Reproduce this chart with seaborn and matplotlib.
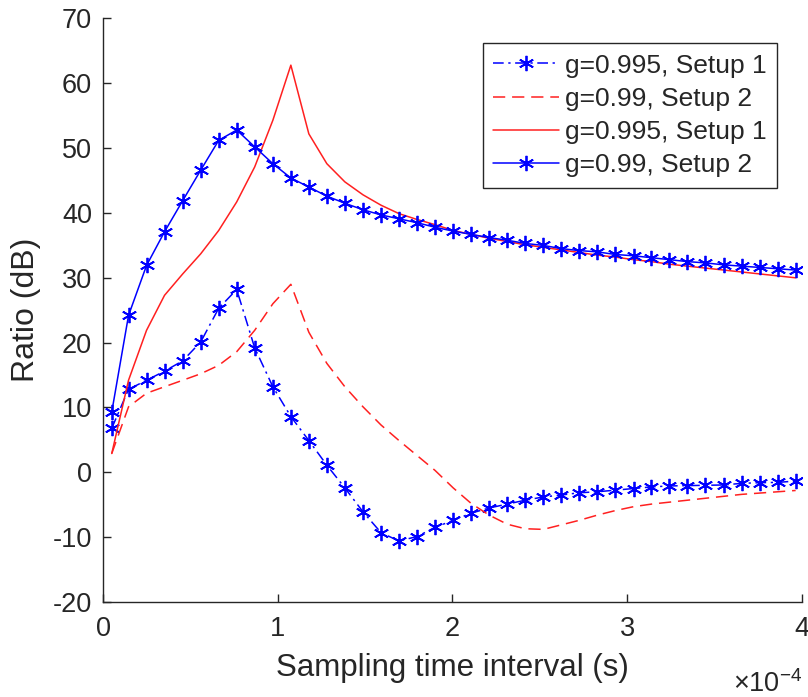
import matplotlib
matplotlib.use("Agg")
import matplotlib.pyplot as plt
import seaborn as sns

# sampling interval (units of 1e-4 s)
t = [0.05, 0.146, 0.249, 0.352, 0.456, 0.559, 0.662, 0.765, 0.868, 0.972,
     1.075, 1.178, 1.281, 1.384, 1.488, 1.591, 1.694, 1.797, 1.900, 2.004,
     2.107, 2.210, 2.313, 2.416, 2.520, 2.623, 2.726, 2.829, 2.932, 3.036,
     3.139, 3.242, 3.345, 3.448, 3.552, 3.655, 3.758, 3.861, 3.964]

# g=0.995, Setup 1 (blue, dash-dot, markers)
blue_dashdot = [6.8, 12.8, 14.2, 15.6, 17.2, 20.1, 25.3, 28.2, 19.2, 13.2,
                8.6, 4.9, 1.1, -2.4, -6.1, -9.3, -10.6, -9.9, -8.5, -7.4,
                -6.3, -5.5, -4.9, -4.3, -3.8, -3.5, -3.15, -3.0, -2.75, -2.5,
                -2.25, -2.1, -2.05, -2.0, -1.95, -1.7, -1.6, -1.55, -1.35]

# g=0.99, Setup 2 (red, dashed)
red_dashed = [2.9, 10.1, 12.2, 13.2, 14.2, 15.2, 16.5, 18.6, 21.9, 26.0,
              29.0, 21.6, 16.8, 13.2, 10.1, 7.3, 4.9, 2.6, 0.3, -2.4,
              -4.8, -6.6, -8.0, -8.7, -8.8, -8.1, -7.4, -6.6, -5.9, -5.3,
              -4.9, -4.6, -4.3, -4.0, -3.7, -3.4, -3.2, -3.0, -2.8]

# g=0.995, Setup 1 (red, solid)
red_solid = [2.9, 14.2, 21.9, 27.3, 30.6, 33.7, 37.3, 41.7, 47.1, 54.3,
             62.8, 52.2, 47.6, 44.8, 42.8, 41.2, 39.9, 39.0, 38.2, 37.3,
             36.7, 36.1, 35.6, 35.1, 34.7, 34.3, 33.9, 33.5, 33.2, 32.8,
             32.5, 32.1, 31.8, 31.5, 31.2, 30.9, 30.6, 30.3, 30.0]

# g=0.99, Setup 2 (blue, solid, markers)
blue_solid = [9.3, 24.2, 31.9, 37.1, 41.9, 46.6, 51.2, 52.8, 50.2, 47.6,
              45.4, 44.0, 42.6, 41.5, 40.5, 39.7, 39.1, 38.5, 37.8, 37.2,
              36.7, 36.2, 35.8, 35.3, 35.0, 34.5, 34.2, 34.0, 33.6, 33.4,
              33.1, 32.8, 32.5, 32.3, 32.0, 31.8, 31.6, 31.4, 31.2]

sns.set_style("white")
plt.rcParams['font.family'] = ['Liberation Sans', 'DejaVu Sans']
plt.rcParams['mathtext.fontset'] = 'custom'
plt.rcParams['mathtext.rm'] = 'Liberation Sans'
plt.rcParams['axes.unicode_minus'] = False

fig = plt.figure(figsize=(8.08, 6.97), dpi=100)
ax = fig.add_axes([0.1275, 0.1363, 0.865, 0.8372])

star = (6, 2, 0)
lw = 1.1

sns.lineplot(x=t, y=blue_dashdot, ax=ax, color='blue', lw=lw,
             linestyle=(0, (7, 3, 1.5, 3)), marker=star, markersize=11,
             markeredgecolor='blue', markeredgewidth=1.3,
             label='g=0.995, Setup 1')
sns.lineplot(x=t, y=red_dashed, ax=ax, color='#ff2020', lw=lw,
             linestyle=(0, (8, 4.5)), label='g=0.99, Setup 2')
sns.lineplot(x=t, y=red_solid, ax=ax, color='#ff2020', lw=lw,
             linestyle='-', label='g=0.995, Setup 1')
sns.lineplot(x=t, y=blue_solid, ax=ax, color='blue', lw=lw,
             linestyle='-', marker=star, markersize=11,
             markeredgecolor='blue', markeredgewidth=1.3,
             label='g=0.99, Setup 2')

ax.set_xlim(0, 4)
ax.set_ylim(-20, 70)
ax.set_xticks([0, 1, 2, 3, 4])
ax.set_yticks(range(-20, 71, 10))

for side in ['top', 'right']:
    ax.spines[side].set_visible(False)
for side in ['left', 'bottom']:
    ax.spines[side].set_color('#262626')
    ax.spines[side].set_linewidth(1.0)

ax.tick_params(bottom=True, left=True, direction='in', length=6, width=1.0,
               color='#262626', labelsize=19.5, labelcolor='#262626')
ax.tick_params(axis='x', pad=10)
ax.tick_params(axis='y', pad=8)

ax.set_xlabel('Sampling time interval (s)', fontsize=22.5, color='#262626', labelpad=8)
ax.set_ylabel('Ratio (dB)', fontsize=23, color='#262626', labelpad=8)

ax.text(1.0, -0.14, r'$\times\mathregular{10^{-4}}$', transform=ax.transAxes,
        ha='right', va='center', fontsize=19.5, color='#262626')

leg = ax.legend(loc='upper right', bbox_to_anchor=(0.964, 0.958),
                borderaxespad=0, fontsize=19, frameon=True, fancybox=False,
                handlelength=2.5, handletextpad=0.2, labelspacing=0.35,
                borderpad=0.4, numpoints=1)
leg.get_frame().set_edgecolor('#262626')
leg.get_frame().set_linewidth(1.0)
leg.get_frame().set_alpha(1)

fig.savefig('out.png', dpi=100)
